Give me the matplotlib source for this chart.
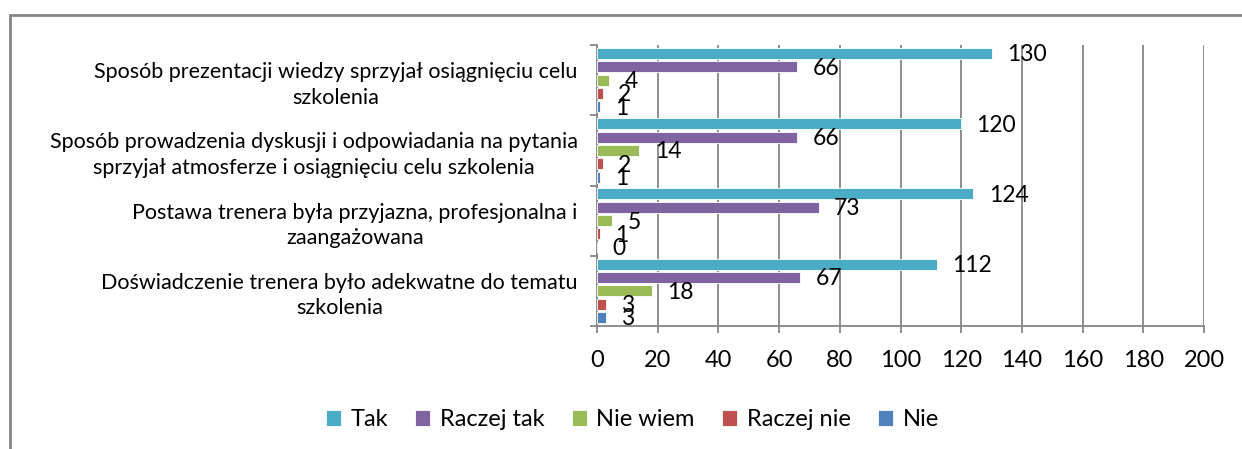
import numpy as np
import matplotlib.pyplot as plt
from matplotlib.patches import Rectangle

plt.rcParams['font.family'] = ['Lato', 'DejaVu Sans']

# Dane (kategorie od dołu do góry)
categories = [
    "Doświadczenie trenera było adekwatne do tematu\nszkolenia",
    "Postawa trenera była przyjazna, profesjonalna i\nzaangażowana",
    "Sposób prowadzenia dyskusji i odpowiadania na pytania\nsprzyjał atmosferze i osiągnięciu celu szkolenia",
    "Sposób prezentacji wiedzy sprzyjał osiągnięciu celu\nszkolenia",
]
series_names = ["Tak", "Raczej tak", "Nie wiem", "Raczej nie", "Nie"]
tak = [112, 124, 120, 130]
raczej_tak = [67, 73, 66, 66]
nie_wiem = [18, 5, 14, 4]
raczej_nie = [3, 1, 2, 2]
nie = [3, 0, 1, 1]
colors = ["#4BACC6", "#8064A2", "#9BBB59", "#C0504D", "#4F81BD"]

values = [tak, raczej_tak, nie_wiem, raczej_nie, nie]

fig = plt.figure(figsize=(12.42, 4.49), dpi=100)
ax = fig.add_axes([597 / 1242, 1 - 326 / 449, 607 / 1242, 281 / 449])

y = np.arange(len(categories))
step = 0.19
height = 0.157
offsets = [2 * step, step, 0, -step, -2 * step]

for name, vals, col, off in zip(series_names, values, colors, offsets):
    bars = ax.barh(y + off, vals, height=height, color=col, label=name,
                   edgecolor="white", linewidth=0.6, zorder=3)
    for b, v in zip(bars, vals):
        ax.annotate(str(v), (b.get_width(), b.get_y() + b.get_height() / 2),
                    xytext=(11, -1), textcoords="offset points",
                    ha="left", va="center", fontsize=16.5, zorder=5)

ax.set_xlim(0, 200)
ax.set_ylim(-0.5, 3.5)
ax.set_xticks(np.arange(0, 201, 20))
ax.set_yticks(y)
ax.set_yticklabels(categories, fontsize=15.5, multialignment="center",
                   linespacing=1.35)
ax.set_yticks(np.arange(-0.5, 3.6, 1), minor=True)
ax.tick_params(axis="y", which="major", length=0, pad=14)
ax.tick_params(axis="y", which="minor", length=5, color="#868686", width=1.3)
ax.tick_params(axis="x", length=5, color="#868686", width=1.3, labelsize=17, pad=12)

ax.grid(axis="x", color="#868686", linewidth=1.3, zorder=0)
for s in ["top", "right"]:
    ax.spines[s].set_visible(False)
for s in ["left", "bottom"]:
    ax.spines[s].set_color("#868686")
    ax.spines[s].set_linewidth(1.3)

leg = fig.legend(loc="center", bbox_to_anchor=(0.509, 1 - 420 / 449), ncol=5,
                 frameon=False, fontsize=17, handlelength=0.65, handleheight=0.65,
                 handletextpad=0.4, columnspacing=1.15)

# ramka wykresu
fig.patches.append(Rectangle((10 / 1242, -0.1), 1.2, 1 - 15 / 449 + 0.1,
                             transform=fig.transFigure, fill=False,
                             edgecolor="#868686", linewidth=2))

fig.savefig("out.png", dpi=100)
